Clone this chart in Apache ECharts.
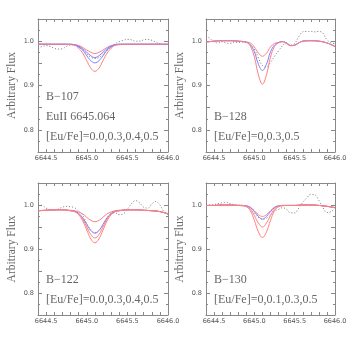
<!DOCTYPE html>
<html>
<head>
<meta charset="utf-8">
<script src="https://cdn.jsdelivr.net/npm/echarts@6/dist/echarts.min.js"></script>
<style>
html, body { margin: 0; padding: 0; background: #fff; }
#chart { width: 354px; height: 354px; }
</style>
</head>
<body>
<div id="chart"></div>
<script>
// wavelength grids
const xSyn = [6644.4, 6644.5, 6644.6, 6644.7, 6644.8, 6644.85, 6644.9, 6644.95, 6645.0, 6645.05, 6645.1,
    6645.15, 6645.2, 6645.25, 6645.3, 6645.35, 6645.4, 6645.5, 6645.6, 6645.7, 6645.8, 6645.9, 6646.0];
const xSyn2 = [6644.4, 6644.5, 6644.6, 6644.7, 6644.8, 6644.9, 6644.95, 6645.0, 6645.05, 6645.1, 6645.15,
    6645.2, 6645.25, 6645.3, 6645.35, 6645.4, 6645.45, 6645.5, 6645.55, 6645.6, 6645.7, 6645.8, 6645.9, 6646.0];
const xObs = [6644.4, 6644.45, 6644.5, 6644.55, 6644.6, 6644.65, 6644.7, 6644.75, 6644.8, 6644.85, 6644.9,
    6644.95, 6645.0, 6645.05, 6645.1, 6645.15, 6645.2, 6645.25, 6645.3, 6645.35, 6645.4, 6645.45, 6645.5,
    6645.55, 6645.6, 6645.65, 6645.7, 6645.75, 6645.8, 6645.85, 6645.9, 6645.95, 6646.0];

// B-107
const obs107 = [0.984, 0.988, 0.990, 0.988, 0.984, 0.982, 0.983, 0.988, 0.992, 0.991, 0.987, 0.980, 0.971,
    0.964, 0.961, 0.963, 0.970, 0.979, 0.987, 0.994, 0.999, 1.002, 1.004, 1.003, 1.000, 1.000, 1.003, 1.004,
    1.002, 0.998, 0.994, 0.992, 0.992];
const syn107a = [0.993, 0.993, 0.993, 0.993, 0.993, 0.992, 0.990, 0.986, 0.980, 0.975, 0.972, 0.975, 0.980,
    0.986, 0.990, 0.992, 0.993, 0.993, 0.993, 0.993, 0.993, 0.993, 0.993];
const syn107b = [0.993, 0.993, 0.993, 0.993, 0.993, 0.992, 0.989, 0.983, 0.975, 0.967, 0.963, 0.967, 0.975,
    0.983, 0.989, 0.992, 0.993, 0.993, 0.993, 0.993, 0.993, 0.993, 0.993];
const syn107c = [0.993, 0.993, 0.993, 0.993, 0.993, 0.991, 0.987, 0.980, 0.967, 0.956, 0.951, 0.956, 0.967,
    0.980, 0.987, 0.991, 0.993, 0.993, 0.993, 0.993, 0.993, 0.993, 0.993];
const syn107d = [0.993, 0.993, 0.993, 0.993, 0.992, 0.991, 0.984, 0.973, 0.956, 0.939, 0.932, 0.939, 0.956,
    0.973, 0.984, 0.991, 0.992, 0.993, 0.993, 0.993, 0.993, 0.993, 0.993];

// B-128
const obs128 = [1.012, 1.006, 0.998, 0.996, 0.999, 0.996, 0.995, 0.998, 0.997, 0.998, 0.997, 0.993, 0.982,
    0.962, 0.945, 0.942, 0.952, 0.966, 0.978, 0.990, 0.997, 0.991, 0.995, 1.010, 1.021, 1.022, 1.022, 1.021,
    1.022, 1.018, 1.003, 0.997, 0.994];
const syn128a = [0.998, 1.000, 1.001, 1.001, 1.000, 0.998, 0.996, 0.987, 0.973, 0.966, 0.973, 0.987, 0.995,
    0.997, 0.999, 0.995, 0.990, 0.991, 0.996, 1.000, 1.001, 1.000, 0.996, 0.988];
const syn128b = [0.998, 1.000, 1.001, 1.001, 1.000, 0.998, 0.992, 0.976, 0.948, 0.934, 0.948, 0.976, 0.991,
    0.997, 0.999, 0.995, 0.990, 0.991, 0.996, 1.000, 1.001, 1.000, 0.996, 0.988];
const syn128c = [0.998, 1.000, 1.001, 1.001, 1.000, 0.997, 0.989, 0.964, 0.924, 0.903, 0.924, 0.964, 0.988,
    0.996, 0.999, 0.995, 0.990, 0.991, 0.996, 1.000, 1.001, 1.000, 0.996, 0.988];

// B-122
const obs122 = [1.000, 0.999, 0.993, 0.989, 0.988, 0.991, 0.995, 0.997, 0.996, 0.994, 0.986, 0.977, 0.958,
    0.943, 0.937, 0.942, 0.955, 0.970, 0.980, 0.982, 0.978, 0.980, 0.990, 1.003, 1.010, 1.005, 0.995, 0.993,
    1.002, 1.008, 1.000, 0.985, 0.978];
const syn122a = [0.987, 0.988, 0.989, 0.989, 0.988, 0.987, 0.984, 0.980, 0.972, 0.965, 0.962, 0.965, 0.972,
    0.980, 0.984, 0.987, 0.988, 0.989, 0.989, 0.988, 0.987, 0.985, 0.980];
const syn122b = [0.987, 0.988, 0.989, 0.989, 0.987, 0.986, 0.981, 0.971, 0.956, 0.942, 0.936, 0.942, 0.956,
    0.971, 0.981, 0.986, 0.987, 0.989, 0.989, 0.988, 0.987, 0.985, 0.980];
const syn122c = [0.987, 0.988, 0.989, 0.989, 0.987, 0.985, 0.979, 0.968, 0.950, 0.933, 0.925, 0.933, 0.950,
    0.968, 0.979, 0.985, 0.987, 0.989, 0.989, 0.988, 0.987, 0.985, 0.980];
const syn122d = [0.987, 0.988, 0.989, 0.989, 0.987, 0.985, 0.978, 0.964, 0.943, 0.923, 0.914, 0.923, 0.943,
    0.964, 0.978, 0.985, 0.987, 0.989, 0.989, 0.988, 0.987, 0.985, 0.980];

// B-130
const obs130 = [0.999, 1.000, 1.001, 1.003, 1.005, 1.006, 1.003, 1.001, 1.000, 0.999, 0.997, 0.990, 0.980,
    0.972, 0.968, 0.970, 0.977, 0.986, 0.990, 0.994, 0.990, 0.982, 0.982, 0.993, 1.006, 1.016, 1.024, 1.023,
    1.010, 0.994, 0.983, 0.985, 0.993];
const syn130a = [0.999, 0.999, 1.000, 1.000, 0.999, 0.999, 0.998, 0.995, 0.987, 0.978, 0.974, 0.978, 0.987,
    0.995, 0.998, 0.999, 0.999, 0.999, 1.000, 1.000, 0.999, 0.997, 0.994];
const syn130b = [0.999, 0.999, 1.000, 1.000, 0.999, 0.999, 0.998, 0.994, 0.985, 0.974, 0.968, 0.974, 0.985,
    0.994, 0.998, 0.999, 0.999, 0.999, 1.000, 1.000, 0.999, 0.997, 0.994];
const syn130c = [0.999, 0.999, 1.000, 1.000, 0.999, 0.999, 0.997, 0.991, 0.976, 0.959, 0.950, 0.959, 0.976,
    0.991, 0.997, 0.999, 0.999, 0.999, 1.000, 1.000, 0.999, 0.997, 0.994];
const syn130d = [0.999, 0.999, 1.000, 1.000, 0.999, 0.998, 0.996, 0.987, 0.965, 0.939, 0.926, 0.939, 0.965,
    0.987, 0.996, 0.998, 0.999, 0.999, 1.000, 1.000, 0.999, 0.997, 0.994];

const labels107 = ['B\u2212107', 'EuII 6645.064', '[Eu/Fe]=0.0,0.3,0.4,0.5'];
const labels128 = ['B\u2212128', '[Eu/Fe]=0,0.3,0.5'];
const labels122 = ['B\u2212122', '[Eu/Fe]=0.0,0.3,0.4,0.5'];
const labels130 = ['B\u2212130', '[Eu/Fe]=0,0.1,0.3,0.5'];

const RED = '#ff7f7f';
const BLUE = '#7f7fff';
const GREY = '#777';

const panels = [
    {xs: xSyn, syn: [syn107a, syn107b, syn107c, syn107d], col: [RED, BLUE, BLUE, RED], obs: obs107, labels: labels107},
    {xs: xSyn2, syn: [syn128a, syn128b, syn128c], col: [RED, BLUE, RED], obs: obs128, labels: labels128},
    {xs: xSyn, syn: [syn122a, syn122b, syn122c, syn122d], col: [RED, BLUE, RED, RED], obs: obs122, labels: labels122},
    {xs: xSyn, syn: [syn130a, syn130b, syn130c, syn130d], col: [RED, BLUE, RED, RED], obs: obs130, labels: labels130}
];
// layout of the four boxes
const boxes = [
    {left: 38, top: 19, width: 130, height: 133},
    {left: 206, top: 19, width: 129, height: 133},
    {left: 38, top: 183, width: 130, height: 132},
    {left: 206, top: 183, width: 129, height: 132}
];

function zip(xs, ys) {
    return xs.map(function (x, i) { return [x, ys[i]]; });
}

let myChart = echarts.init(document.getElementById('chart'));
let grid = [], xAxis = [], yAxis = [], series = [], graphic = [];
let lineCol = '#888';

panels.forEach(function (p, i) {
    let b = boxes[i];
    grid.push({left: b.left, top: b.top, width: b.width, height: b.height});
    let xBase = {
        gridIndex: i, type: 'value', min: 6644.4, max: 6646.0, interval: 0.1,
        axisLine: {show: true, onZero: false, lineStyle: {color: lineCol, width: 1}},
        axisTick: {show: true, inside: true, length: 3, lineStyle: {color: lineCol}},
        splitLine: {show: false}
    };
    xAxis.push(Object.assign({}, xBase, {
        position: 'bottom',
        axisLabel: {
            show: true, fontSize: 6.5, color: '#555', margin: 3, fontFamily: 'DejaVu Sans',
            showMinLabel: false,
            formatter: function (v) {
                let k = v * 2;
                return Math.abs(k - Math.round(k)) < 1e-6 ? v.toFixed(1) : '';
            }
        }
    }));
    xAxis.push(Object.assign({}, xBase, {position: 'top', axisLabel: {show: false}}));
    let yBase = {
        gridIndex: i, type: 'value', min: 0.75, max: 1.05, interval: 0.05,
        axisLine: {show: true, onZero: false, lineStyle: {color: lineCol, width: 1}},
        axisTick: {show: true, inside: true, length: 4, lineStyle: {color: lineCol}},
        minorTick: {show: true, splitNumber: 2, length: 2, lineStyle: {color: lineCol}},
        splitLine: {show: false}
    };
    yAxis.push(Object.assign({}, yBase, {
        position: 'left',
        name: 'Arbitrary Flux', nameLocation: 'middle', nameGap: 20,
        nameTextStyle: {fontFamily: 'Liberation Serif', fontSize: 11.5, color: '#666'},
        axisLabel: {
            show: true, fontSize: 6.5, color: '#555', margin: 4, fontFamily: 'DejaVu Sans',
            formatter: function (v) {
                let k = v * 10;
                return Math.abs(k - Math.round(k)) < 1e-6 ? v.toFixed(1) : '';
            }
        }
    }));
    yAxis.push(Object.assign({}, yBase, {position: 'right', axisLabel: {show: false}}));

    series.push({
        type: 'line', xAxisIndex: 2 * i, yAxisIndex: 2 * i, data: zip(xObs, p.obs),
        symbol: 'none', smooth: 0.4, silent: true,
        lineStyle: {color: GREY, width: 1, type: [1, 2]}
    });
    p.syn.forEach(function (ys, j) {
        series.push({
            type: 'line', xAxisIndex: 2 * i, yAxisIndex: 2 * i, data: zip(p.xs, ys),
            symbol: 'none', smooth: 0.4, silent: true,
            lineStyle: {color: p.col[j], width: 1}
        });
    });

    // text inside the box
    let n = p.labels.length;
    p.labels.forEach(function (t, j) {
        graphic.push({
            type: 'text', left: b.left + 8, top: b.top + b.height - 20 - (n - 1 - j) * 20 - 1,
            style: {text: t, fill: '#666', font: '12px "Liberation Serif"'}
        });
    });
});

myChart.setOption({
    animation: false,
    backgroundColor: '#fff',
    grid: grid,
    xAxis: xAxis,
    yAxis: yAxis,
    series: series,
    graphic: graphic
});
</script>
</body>
</html>
